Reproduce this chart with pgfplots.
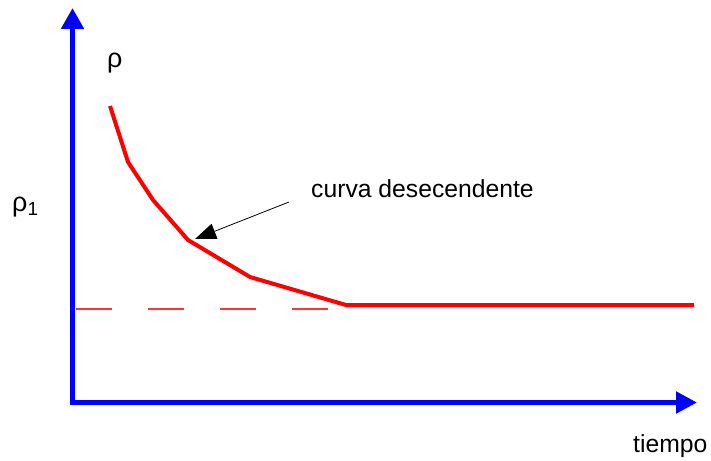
\documentclass[border=0pt]{standalone}
\usepackage{pgfplots}
\pgfplotsset{compat=1.18}
\usepackage{fontspec}
\setmainfont{Liberation Sans}
\usetikzlibrary{arrows.meta}
\definecolor{axblue}{RGB}{0,0,255}
\definecolor{curvered}{RGB}{255,0,0}
\begin{document}
\begin{tikzpicture}
\begin{axis}[scale only axis, width=711bp, height=461bp,
  xmin=0, xmax=711, ymin=0, ymax=461, y dir=reverse,
  hide axis, clip=false]
\coordinate (LL) at (rel axis cs:0,0);
\coordinate (UR) at (rel axis cs:1,1);
% axes
\addplot[axblue, line width=5bp, -{Triangle[length=21bp,width=22bp]}] coordinates {(72.5,404) (72.5,8)};
\addplot[axblue, line width=5bp, -{Triangle[length=21bp,width=21bp]}] coordinates {(70,402.5) (697,402.5)};
% dashed reference level
\addplot[curvered!80, line width=1.3bp, dash pattern=on 36bp off 36bp] coordinates {(76,309) (330,309)};
% descending curve
\addplot[curvered, line width=4bp] coordinates {(110,106) (128,162) (153,200) (188,240) (250,277) (346,305) (694,305)};
% annotation arrow
\addplot[black, line width=0.8bp, -{Triangle[length=21bp,width=16bp]}] coordinates {(289,202) (195,239)};
% labels
\node[anchor=base west, inner sep=0, font=\fontsize{27}{27}\selectfont] at (axis cs:107,68) {ρ};
\node[anchor=base west, inner sep=0, font=\fontsize{27}{27}\selectfont] at (axis cs:12,211) {ρ\raisebox{-4bp}{\fontsize{19}{19}\selectfont 1}};
\node[anchor=base west, inner sep=0, font=\fontsize{24.8}{24.8}\selectfont] at (axis cs:311,197) {curva desecendente};
\node[anchor=base west, inner sep=0, font=\fontsize{24.8}{24.8}\selectfont] at (axis cs:633,452) {tiempo};
\end{axis}
\pgfresetboundingbox
\path (LL) rectangle (UR);
\end{tikzpicture}
\end{document}
